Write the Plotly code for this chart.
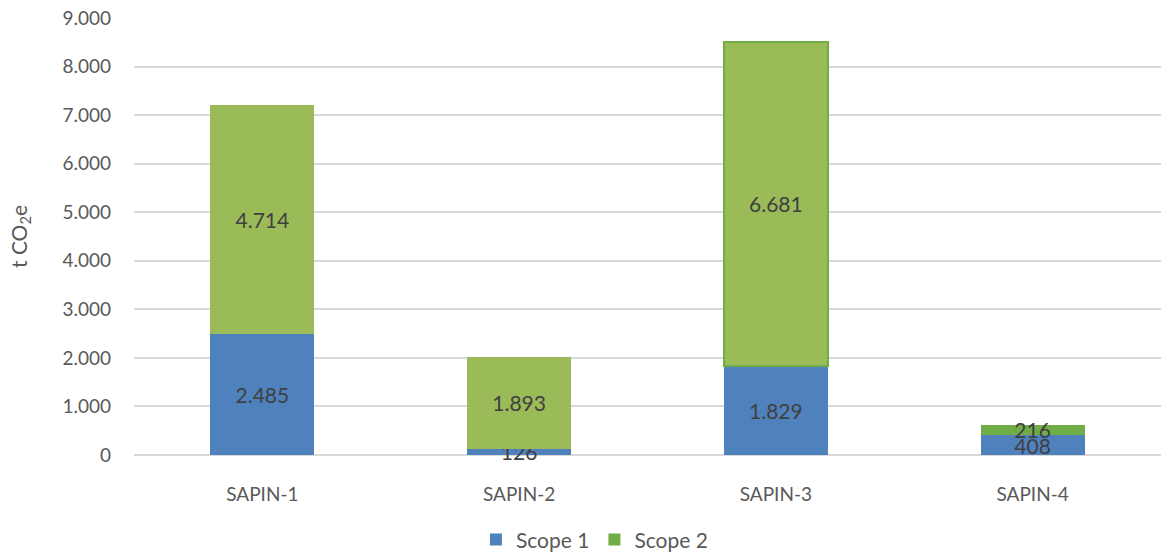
import plotly.graph_objects as go

# Emissions per site, in tonnes of CO2 equivalent
sites = ["SAPIN-1", "SAPIN-2", "SAPIN-3", "SAPIN-4"]
scope1 = [2485, 126, 1829, 408]
scope2 = [4714, 1893, 6681, 216]

y_ticks = [0, 1000, 2000, 3000, 4000, 5000, 6000, 7000, 8000, 9000]

BLUE = "#4F81BD"
GREEN = "#9BBB59"
GREEN_DARK = "#70AD47"
FONT = "Lato, Open Sans, sans-serif"
LABEL_COLOR = "#404040"
AXIS_COLOR = "#595959"

# Per-bar styling for the green segments
green_fill = [GREEN, GREEN, GREEN, GREEN_DARK]
green_line = ["rgba(0,0,0,0)", "rgba(0,0,0,0)", GREEN_DARK, "rgba(0,0,0,0)"]
green_line_w = [0, 0, 2, 0]

fig = go.Figure()
fig.add_trace(go.Bar(
    x=sites, y=scope1, name="Scope 1",
    marker=dict(color=BLUE, line=dict(width=0)),
    text=scope1, texttemplate="%{y:,d}",
    textposition="inside", insidetextanchor="middle",
    constraintext="none", cliponaxis=False,
    textfont=dict(color=LABEL_COLOR, size=21, family=FONT),
))
fig.add_trace(go.Bar(
    x=sites, y=scope2, name="Scope 2", showlegend=False,
    marker=dict(color=green_fill, line=dict(color=green_line, width=green_line_w)),
    text=scope2, texttemplate="%{y:,d}",
    textposition="inside", insidetextanchor="middle",
    constraintext="none", cliponaxis=False,
    textfont=dict(color=LABEL_COLOR, size=21, family=FONT),
))
# Legend entry for Scope 2 in the darker series green
fig.add_trace(go.Bar(
    x=[sites[0]], y=[None], name="Scope 2",
    marker=dict(color=GREEN_DARK, line=dict(width=0)),
    hoverinfo="skip",
))

fig.update_layout(
    barmode="stack",
    bargap=0.595,
    width=1161, height=552,
    margin=dict(l=134, r=0, t=18, b=97, autoexpand=False),
    paper_bgcolor="white", plot_bgcolor="white",
    separators=",.",
    font=dict(family=FONT, color=AXIS_COLOR, size=19),
    showlegend=True,
    legend=dict(
        orientation="h",
        xref="container", x=0.512, xanchor="center",
        yref="container", y=0.022, yanchor="middle",
        font=dict(size=21, color=AXIS_COLOR, family=FONT),
        traceorder="normal", itemclick=False,
    ),
    xaxis=dict(
        showgrid=False, showline=False, ticks="",
        tickfont=dict(size=19, color=AXIS_COLOR, family=FONT),
        ticklabelstandoff=26,
    ),
    yaxis=dict(
        range=[0, 9000], tickvals=y_ticks, tickformat=",d",
        showgrid=True, gridcolor="#D9D9D9", gridwidth=1.5,
        zeroline=True, zerolinecolor="#D9D9D9", zerolinewidth=1.5,
        showline=False, ticks="",
        tickfont=dict(size=19, color=AXIS_COLOR, family=FONT),
        ticklabelstandoff=22,
        title=dict(text="t CO<sub>2</sub>e", font=dict(size=21, color=AXIS_COLOR, family=FONT), standoff=29),
    ),
)

fig.write_html("out.html")
